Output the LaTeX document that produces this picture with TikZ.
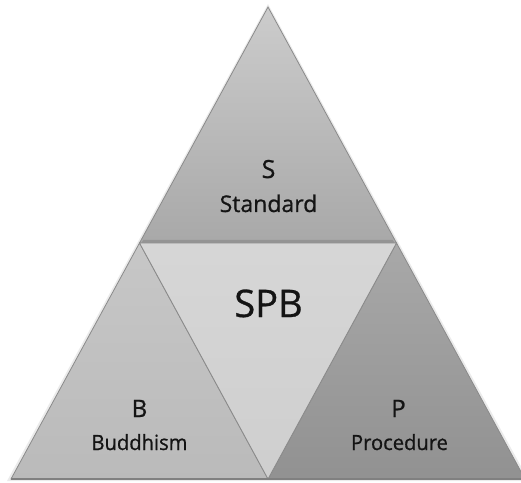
\documentclass[tikz,border=0pt]{standalone}
\usepackage{fontspec}
\setmainfont{Open Sans}[FakeBold=0.8]
\definecolor{txt}{HTML}{141414}
\definecolor{edge}{HTML}{8A8A8A}
\begin{document}
\begin{tikzpicture}[x=1pt,y=1pt,
  facet/.style={draw=edge,line width=0.8pt,line join=miter},
  lbl/.style={text=txt,inner sep=0pt,anchor=base,font=\bfseries}]
\useasboundingbox (0,0) rectangle (521,482);
% corner coordinates
\coordinate (A) at (268,475);
\coordinate (ML) at (139.5,239);
\coordinate (MR) at (396.5,239);
\coordinate (BL) at (11,3);
\coordinate (BC) at (268,3);
\coordinate (BR) at (525,3);
% faint outer shadow
\fill[black!8] (268,478) -- (7,1) -- (529,1) -- cycle;
% top triangle
\shade[top color=black!20, bottom color=black!34] (A) -- (ML) -- (MR) -- cycle;
\fill[black!42] (141.5,239) -- (394.5,239) -- (392.8,242) -- (143.2,242) -- cycle;
\draw[facet] (A) -- (ML) -- (MR) -- cycle;
% left triangle
\shade[top color=black!22, bottom color=black!27] (ML) -- (BL) -- (BC) -- cycle;
\draw[facet] (ML) -- (BL) -- (BC) -- cycle;
% right triangle
\shade[top color=black!34, bottom color=black!43] (MR) -- (BC) -- (BR) -- cycle;
\draw[facet] (MR) -- (BC) -- (BR) -- cycle;
% middle inverted triangle
\shade[top color=black!16, bottom color=black!19] (ML) -- (MR) -- (BC) -- cycle;
\draw[facet] (ML) -- (MR) -- (BC) -- cycle;
% base shadow line
\draw[black!50,line width=1.2pt] (BL) -- (BR);
% labels
\node[lbl,font=\fontsize{25}{25}\selectfont] (s) at (268.5,304) {S};
\node[lbl,font=\fontsize{23}{23}\selectfont] (sd) at (268.5,270) {Standard};
\node[lbl,font=\fontsize{38}{38}\selectfont] (spb) at (268.5,165) {SPB};
\node[lbl,font=\fontsize{24}{24}\selectfont] (b) at (139.5,65) {B};
\node[lbl,font=\fontsize{21}{21}\selectfont,xscale=0.96] (bd) at (139.5,32) {Buddhism};
\node[lbl,font=\fontsize{24}{24}\selectfont] (p) at (398.5,65) {P};
\node[lbl,font=\fontsize{21}{21}\selectfont,xscale=0.96] (pr) at (399.5,32) {Procedure};
\end{tikzpicture}
\end{document}
